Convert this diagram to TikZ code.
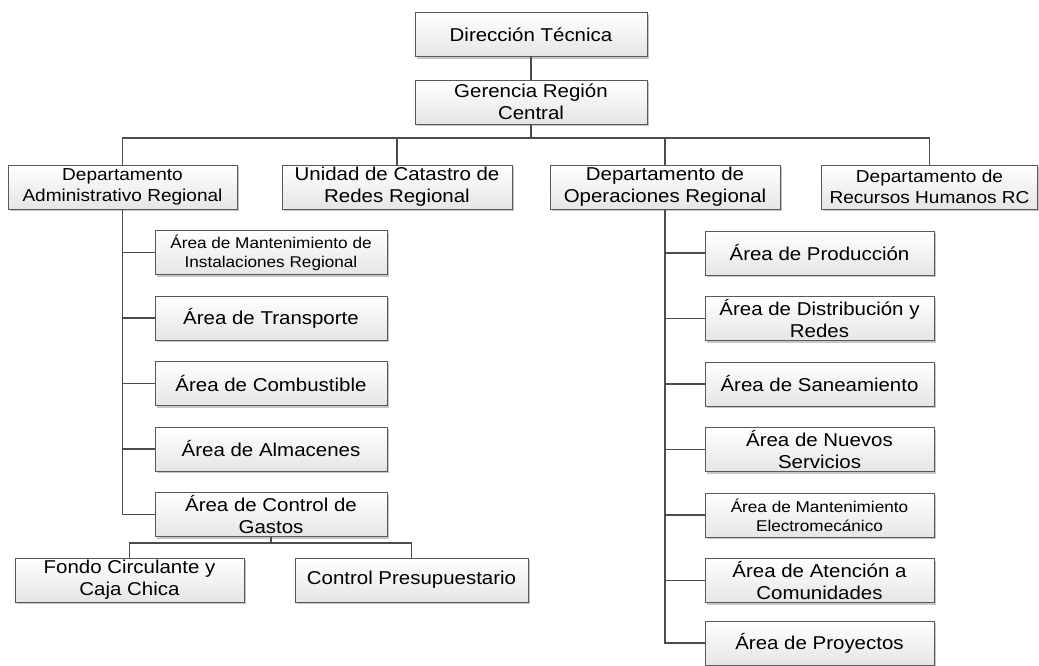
\documentclass[tikz,border=0pt]{standalone}
\usepackage{fontspec}
\setmainfont[FakeStretch=1.1]{Liberation Sans}
\usetikzlibrary{shadows}
\tikzset{
  unit/.style={draw=gray!70!black, line width=0.7pt, top color=white, bottom color=gray!20,
    align=center, inner sep=0pt, minimum height=44pt,
    font=\fontsize{18.6}{21.7}\selectfont,
    drop shadow={shadow xshift=2pt, shadow yshift=-2pt, fill=gray!45, opacity=1}},
  midfont/.style={font=\fontsize{17.3}{20.5}\selectfont},
  smallfont/.style={font=\fontsize{15.6}{19}\selectfont},
  link/.style={draw=black!70, line width=1.3pt}
}
\begin{document}
\begin{tikzpicture}[x=1pt,y=-1pt]
	\useasboundingbox (0,0) rectangle (1039,665);
	% top of the chart
	\node[unit, minimum width=232pt] (dt) at (531,34.5) {Dirección Técnica};
	\node[unit, minimum width=232pt] (grc) at (531,102) {Gerencia Región\\Central};
	\coordinate (bus) at (531,138);
	% departments
	\node[unit, midfont, minimum width=229pt] (dar) at (122.5,187) {Departamento\\Administrativo Regional};
	\node[unit, minimum width=230pt] (ucr) at (397,187) {Unidad de Catastro de\\Redes Regional};
	\node[unit, minimum width=230pt] (dor) at (665,187) {Departamento de\\Operaciones Regional};
	\node[unit, midfont, minimum width=216pt] (drh) at (929.5,187) {Departamento de\\Recursos Humanos RC};
	% areas of the administrative department
	\node[unit, smallfont, minimum width=232pt] (ami) at (271,252.5) {Área de Mantenimiento de\\Instalaciones Regional};
	\node[unit, minimum width=232pt] (atr) at (271,318) {Área de Transporte};
	\node[unit, minimum width=232pt] (aco) at (271,383.5) {Área de Combustible};
	\node[unit, minimum width=232pt] (aal) at (271,449) {Área de Almacenes};
	\node[unit, minimum width=232pt] (acg) at (271,514.5) {Área de Control de\\Gastos};
	\node[unit, minimum width=229pt] (fcc) at (129.5,580) {Fondo Circulante y\\Caja Chica};
	\node[unit, minimum width=233pt] (cpp) at (411.5,580) {Control Presupuestario};
	% areas of the operations department
	\node[unit, minimum width=229pt] (apr) at (819.5,253) {Área de Producción};
	\node[unit, minimum width=229pt] (adr) at (819.5,318.5) {Área de Distribución y\\Redes};
	\node[unit, minimum width=229pt] (asa) at (819.5,384) {Área de Saneamiento};
	\node[unit, minimum width=229pt] (ans) at (819.5,449.5) {Área de Nuevos\\Servicios};
	\node[unit, smallfont, minimum width=229pt] (ame) at (819.5,515) {Área de Mantenimiento\\Electromecánico};
	\node[unit, minimum width=229pt] (aac) at (819.5,580.5) {Área de Atención a\\Comunidades};
	\node[unit, minimum width=229pt] (apy) at (819.5,643) {Área de Proyectos};
	% connectors
	\draw[link] (dt) -- (grc);
	\draw[link] (grc) -- (bus);
	\draw[link] (dar.north) |- (bus) -| (drh.north);
	\draw[link] (ucr.north) -- (ucr.north |- bus);
	\draw[link] (dor.north) -- (dor.north |- bus);
	\draw[link] (dar.south) |- (acg.west);
	\foreach \n in {ami,atr,aco,aal}
		\draw[link] (dar.south |- \n.west) -- (\n.west);
	\coordinate (cgb) at ([yshift=-6pt]acg.south);
	\draw[link] (acg) -- (cgb);
	\draw[link] (fcc.north) |- (cgb) -| (cpp.north);
	\draw[link] (dor.south) |- (apy.west);
	\foreach \n in {apr,adr,asa,ans,ame,aac}
		\draw[link] (dor.south |- \n.west) -- (\n.west);
\end{tikzpicture}
\end{document}
